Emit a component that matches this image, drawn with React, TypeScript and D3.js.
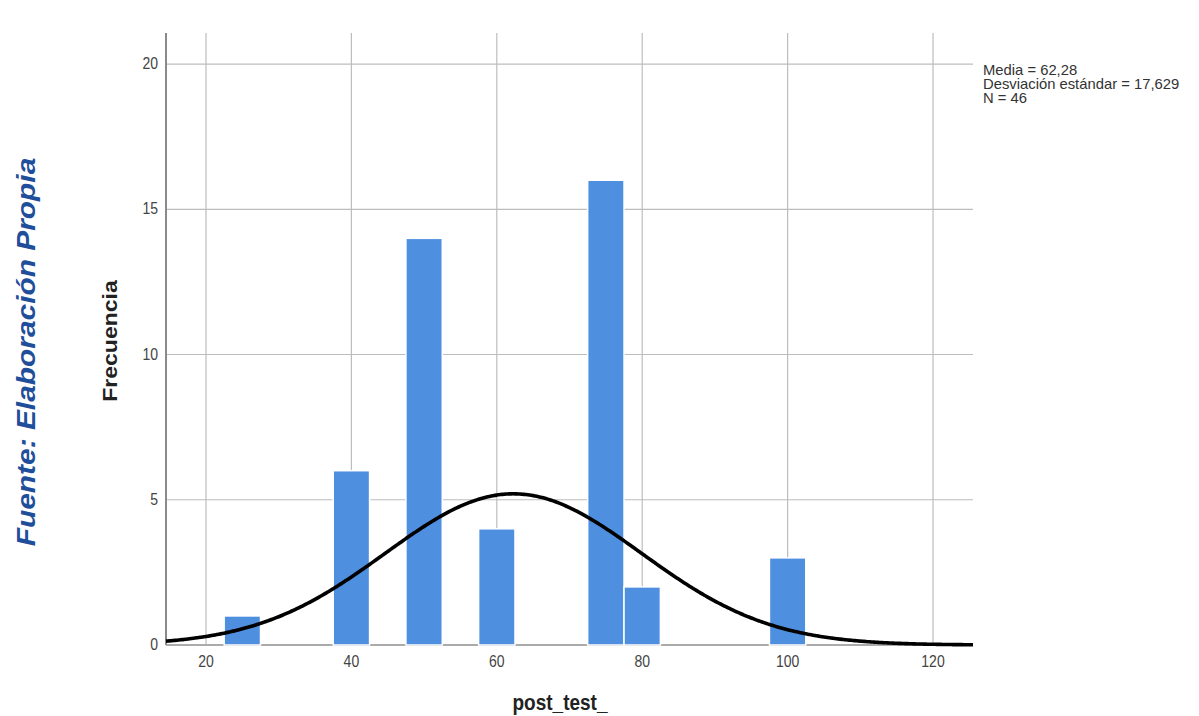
import React from "react";
import * as d3 from "d3";

// histogram bins (centre of each 5-wide bin) and their counts
const binCenters = [25, 40, 50, 60, 75, 80, 100];
const binCounts = [1, 6, 14, 4, 16, 2, 3];
const binWidth = 5;

const xTicks = [20, 40, 60, 80, 100, 120];
const yTicks = [0, 5, 10, 15, 20];

// summary stats shown at the right
const MEAN = 62.28;
const SD = 17.629;
const N = 46;
const statLines = ["Media = 62,28", "Desviación estándar = 17,629", "N = 46"];

const W = 1199;
const H = 716;
const plot = { left: 166, right: 973, top: 35, bottom: 645 };
const SY = 1.15; // the source picture is a bit stretched vertically
const FONT = "'Liberation Sans', Arial, sans-serif";

export default function App() {
  const x = d3.scaleLinear().domain([14.5, 125.5]).range([plot.left, plot.right]);
  const y = d3.scaleLinear().domain([0, 21]).range([plot.bottom, plot.top]);

  // fitted normal curve, scaled to counts
  const pdf = (v: number) =>
    (N * binWidth) / (SD * Math.sqrt(2 * Math.PI)) * Math.exp(-0.5 * ((v - MEAN) / SD) ** 2);
  const curvePts = d3.range(14.5, 125.51, 0.25).map((v) => [v, pdf(v)] as [number, number]);
  const line = d3
    .line<[number, number]>()
    .x((d) => x(d[0]))
    .y((d) => y(d[1]))
    .curve(d3.curveBasis);

  const stretched = (tx: number, ty: number, rot = 0) =>
    `translate(${tx},${ty}) scale(1,${SY})${rot ? ` rotate(${rot})` : ""}`;

  return (
    <svg
      width={W}
      height={H}
      style={{ position: "absolute", left: 0, top: 0, background: "#fff" }}
      fontFamily={FONT}
    >
      <rect width={W} height={H} fill="#fff" />

      {/* grid */}
      {xTicks.map((t) => (
        <line key={"gx" + t} x1={x(t)} x2={x(t)} y1={plot.top - 2} y2={plot.bottom}
          stroke="#bdbdbd" strokeWidth={1.2} />
      ))}
      {yTicks.map((t) => (
        <line key={"gy" + t} x1={plot.left} x2={plot.right} y1={y(t)} y2={y(t)}
          stroke="#bdbdbd" strokeWidth={1.2} />
      ))}
      <line x1={plot.left} x2={plot.left} y1={plot.top - 2} y2={plot.bottom} stroke="#8a8a8a" strokeWidth={2} />
      <line x1={plot.left} x2={plot.right} y1={plot.bottom} y2={plot.bottom} stroke="#9a9a9a" strokeWidth={1.5} />

      {/* bars */}
      {binCenters.map((c, i) => (
        <rect
          key={"b" + c}
          x={x(c - binWidth / 2)}
          y={y(binCounts[i])}
          width={x(c + binWidth / 2) - x(c - binWidth / 2)}
          height={y(0) - y(binCounts[i])}
          fill="#4f8fe0"
          stroke="#fff"
          strokeWidth={1.5}
        />
      ))}

      {/* normal curve */}
      <path d={line(curvePts) || ""} fill="none" stroke="#000" strokeWidth={3.6} />

      {/* tick labels */}
      {yTicks.map((t) => (
        <text key={"ty" + t} transform={stretched(158, y(t) + 5)} textAnchor="end"
          fontSize={14} fill="#444">{t}</text>
      ))}
      {xTicks.map((t) => (
        <text key={"tx" + t} transform={stretched(x(t), 667)} textAnchor="middle"
          fontSize={14} fill="#444">{t}</text>
      ))}

      {/* axis titles */}
      <text transform={stretched(560, 710)} textAnchor="middle" fontSize={19}
        fontWeight="bold" fill="#222">post_test_</text>
      <text transform={stretched(117, 341, -90)} textAnchor="middle" fontSize={20}
        fontWeight="bold" fill="#222">Frecuencia</text>

      {/* stats box */}
      {statLines.map((s, i) => (
        <text key={s} x={983} y={75 + i * 14} fontSize={14.8} fill="#333">{s}</text>
      ))}

      {/* source note */}
      <text transform={stretched(35, 352, -90)} textAnchor="middle" fontSize={26}
        fontWeight="bold" fontStyle="italic" fill="#1f4e9a">Fuente: Elaboración Propia</text>
    </svg>
  );
}
